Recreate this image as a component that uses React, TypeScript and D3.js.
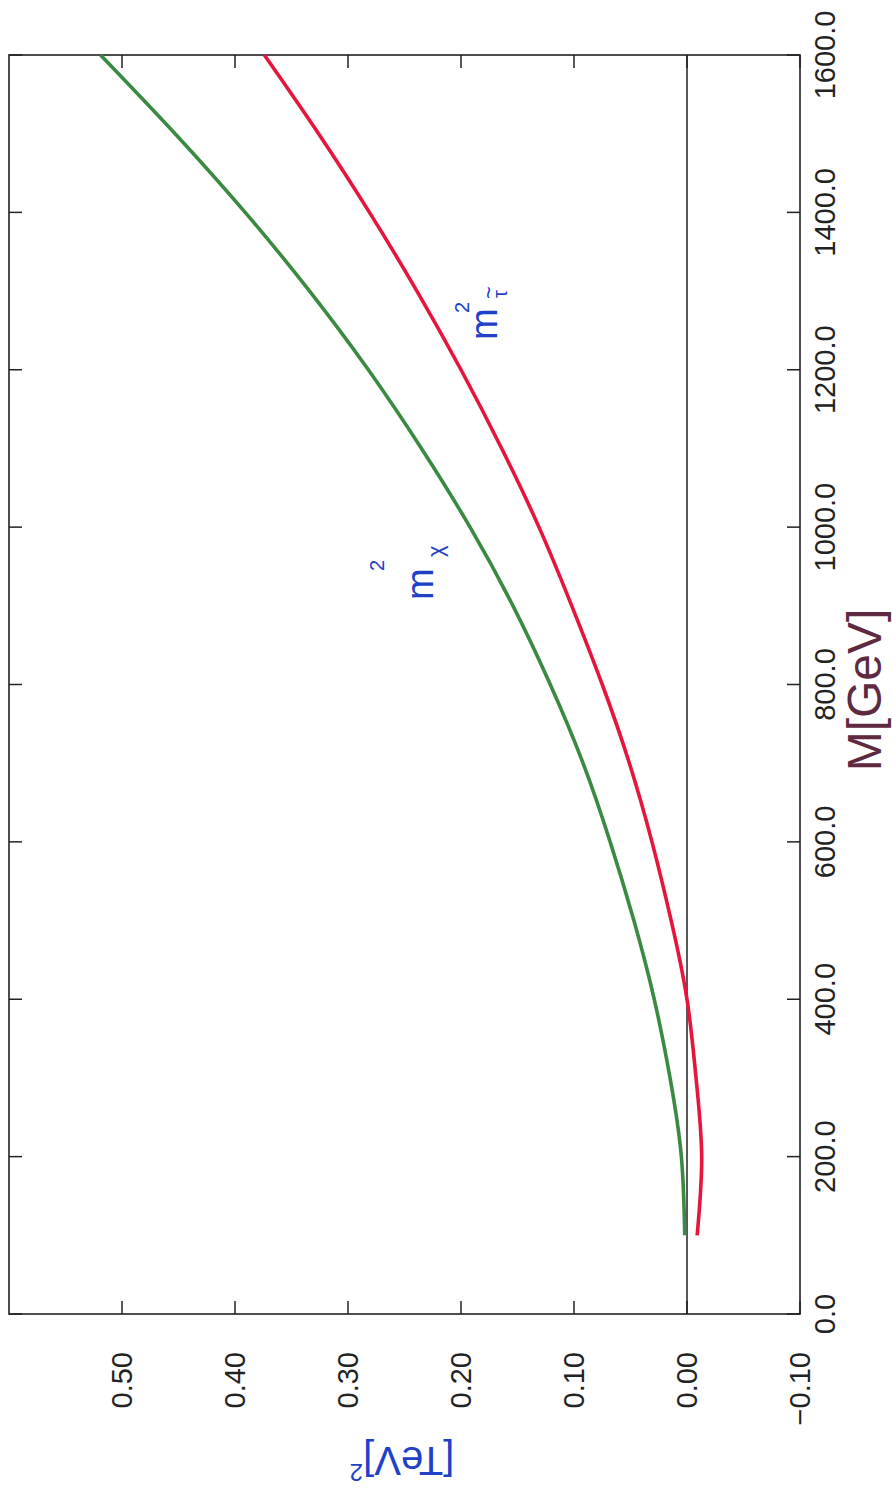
import * as d3 from "d3";

// M in GeV (drawn along the vertical, the whole plot is turned 90 degrees)
const massGeV = [100, 200, 300, 400, 500, 600, 700, 800, 900, 1000, 1100, 1200, 1300, 1400, 1500, 1600];
// m_chi^2 in TeV^2
const chiSq = [0.002, 0.005, 0.015, 0.029, 0.047, 0.068, 0.092, 0.121, 0.154, 0.192, 0.235, 0.282, 0.334, 0.391, 0.453, 0.519];
// m_stau^2 in TeV^2
const stauSq = [-0.009, -0.013, -0.008, 0.0, 0.014, 0.031, 0.051, 0.075, 0.102, 0.131, 0.164, 0.2, 0.239, 0.281, 0.326, 0.374];

const massTicks = [0, 200, 400, 600, 800, 1000, 1200, 1400, 1600];
const valueTicks = [0.5, 0.4, 0.3, 0.2, 0.1, 0.0, -0.1];

const width = 892;
const height = 1500;
const font = "'Liberation Sans', Arial, Helvetica, sans-serif";

const App = () => {
  // mass runs bottom -> top, value runs right -> left
  const yM = d3.scaleLinear().domain([0, 1600]).range([1314, 55]);
  const xV = d3.scaleLinear().domain([-0.1, 0.6]).range([800, 9]);

  const left = xV(0.6);
  const right = xV(-0.1);
  const top = yM(1600);
  const bottom = yM(0);

  const line = d3
    .line<[number, number]>()
    .x(d => xV(d[1]))
    .y(d => yM(d[0]))
    .curve(d3.curveNatural);

  const chiPts = massGeV.map((m, i) => [m, chiSq[i]] as [number, number]);
  const stauPts = massGeV.map((m, i) => [m, stauSq[i]] as [number, number]);

  const tickLen = 13;
  const blue = "#2140c8";

  return (
    <svg
      width={width}
      height={height}
      style={{ position: "absolute", left: 0, top: 0, background: "#fff" }}
      fontFamily={font}
    >
      {/* zero line */}
      <line x1={xV(0)} x2={xV(0)} y1={top} y2={bottom} stroke="#222" strokeWidth={1.5} />

      {/* frame */}
      <rect x={left} y={top} width={right - left} height={bottom - top} fill="none" stroke="#222" strokeWidth={1.6} />

      {/* mass ticks on both side frames */}
      {massTicks.map(t => (
        <g key={"m" + t}>
          <line x1={right} x2={right - tickLen} y1={yM(t)} y2={yM(t)} stroke="#222" strokeWidth={1.5} />
          <line x1={left} x2={left + tickLen} y1={yM(t)} y2={yM(t)} stroke="#222" strokeWidth={1.5} />
          <text
            transform={`translate(835,${yM(t)}) rotate(-90)`}
            textAnchor="middle"
            fontSize={29}
            fill="#222"
          >
            {t.toFixed(1)}
          </text>
        </g>
      ))}

      {/* value ticks on top and bottom frames */}
      {valueTicks.map(t => (
        <g key={"v" + t}>
          <line x1={xV(t)} x2={xV(t)} y1={top} y2={top + tickLen} stroke="#222" strokeWidth={1.5} />
          <line x1={xV(t)} x2={xV(t)} y1={bottom} y2={bottom - tickLen} stroke="#222" strokeWidth={1.5} />
          <text
            transform={`translate(${xV(t) + 10},1352) rotate(-90)`}
            textAnchor="end"
            fontSize={29}
            fill="#222"
          >
            {t < 0 ? "\u2212" + Math.abs(t).toFixed(2) : t.toFixed(2)}
          </text>
        </g>
      ))}

      {/* curves */}
      <path d={line(chiPts) ?? ""} fill="none" stroke="#3a8a43" strokeWidth={3.6} />
      <path d={line(stauPts) ?? ""} fill="none" stroke="#e6153d" strokeWidth={3.6} />

      {/* axis titles */}
      <text
        transform="translate(881,690) rotate(-90)"
        textAnchor="middle"
        fontSize={48}
        fill="#5e2a40"
      >
        M[GeV]
      </text>
      <text transform="translate(402,1447) rotate(180)" textAnchor="middle" fontSize={40} fill={blue}>
        [TeV]
        <tspan fontSize={24} dy={-17}>2</tspan>
      </text>

      {/* curve labels */}
      <g transform="translate(433,600) rotate(-90)" fill={blue}>
        <text x={0} y={0} fontSize={38}>m</text>
        <text x={29} y={-49} fontSize={20}>2</text>
        <text x={43} y={10} fontSize={22}>χ</text>
      </g>
      <g transform="translate(497,340) rotate(-90)" fill={blue}>
        <text x={0} y={0} fontSize={38}>m</text>
        <text x={27} y={-28} fontSize={20}>2</text>
        <text x={42} y={10} fontSize={20}>τ</text>
        <text x={41} y={-1} fontSize={22}>~</text>
      </g>
    </svg>
  );
};

export default App;
